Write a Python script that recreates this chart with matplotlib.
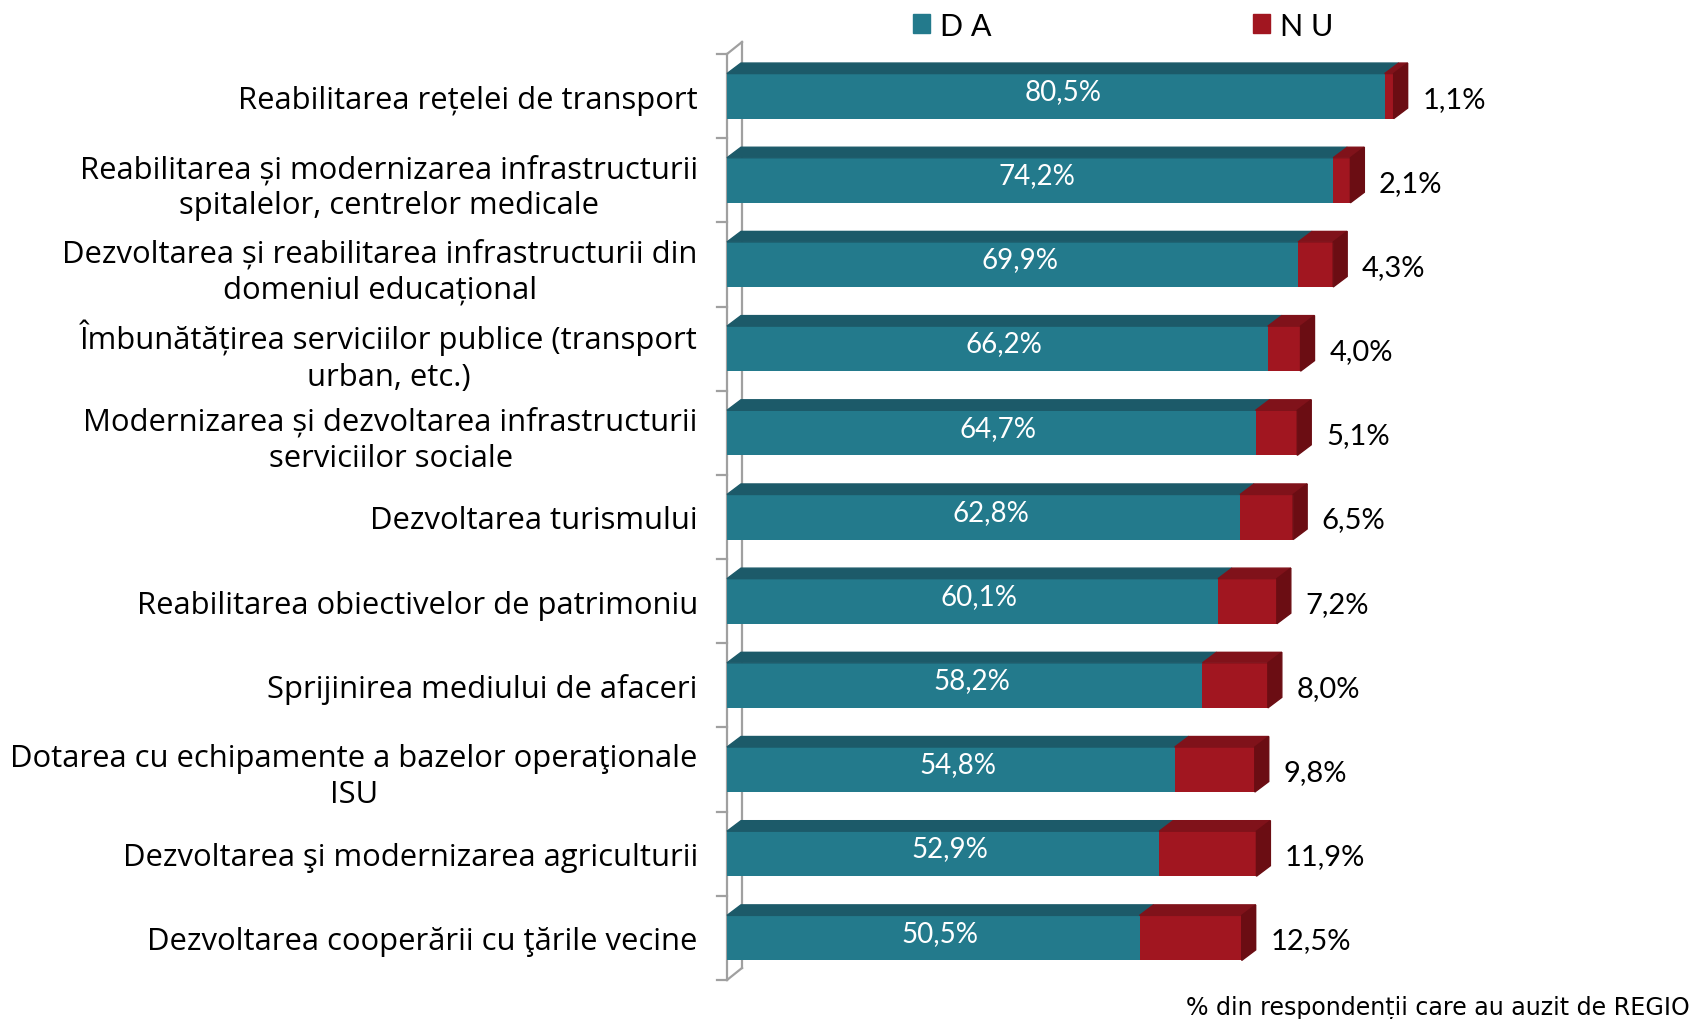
import matplotlib
matplotlib.use('Agg')
import matplotlib.pyplot as plt
from matplotlib.patches import Polygon, Patch

plt.rcParams['font.family'] = ['Lato', 'DejaVu Sans']

categories = [
    'Reabilitarea rețelei de transport',
    'Reabilitarea și modernizarea infrastructurii\nspitalelor, centrelor medicale',
    'Dezvoltarea și reabilitarea infrastructurii din\ndomeniul educațional',
    'Îmbunătățirea serviciilor publice (transport\nurban, etc.)',
    'Modernizarea și dezvoltarea infrastructurii\nserviciilor sociale',
    'Dezvoltarea turismului',
    'Reabilitarea obiectivelor de patrimoniu',
    'Sprijinirea mediului de afaceri',
    'Dotarea cu echipamente a bazelor operaţionale\nISU',
    'Dezvoltarea şi modernizarea agriculturii',
    'Dezvoltarea cooperării cu ţările vecine',
]
da_values = [80.5, 74.2, 69.9, 66.2, 64.7, 62.8, 60.1, 58.2, 54.8, 52.9, 50.5]
nu_values = [1.1, 2.1, 4.3, 4.0, 5.1, 6.5, 7.2, 8.0, 9.8, 11.9, 12.5]
series_names = ['D A', 'N U']
note = '% din respondenții care au auzit de REGIO'

teal = '#237A8C'
teal_top = '#1C5A69'
red = '#A11620'
red_top = '#80121A'
red_side = '#6B0D13'
wall = '#A0A0A0'

W, H = 1694, 1020
fig = plt.figure(figsize=(W / 100, H / 100), dpi=100)
# axes placed so x=0 sits on the wall and each category is one unit tall
ax = fig.add_axes([727 / W, 39 / H, 817 / W, 926 / H])
ax.set_xlim(0, 100)
ax.set_ylim(len(categories) - 0.5, -0.5)
for s in ax.spines.values():
    s.set_visible(False)
ax.set_xticks([])

h = 0.535     # front face height
dx = 1.71     # depth offset in x (data units)
dy = 0.125    # depth offset in y (data units)

ys = list(range(len(categories)))

# back wall
wdx, wdy = 1.84, 0.143
top_y, bot_y = -0.5, len(categories) - 0.5
ax.plot([0, 0], [top_y, bot_y], color=wall, lw=1.6, clip_on=False)
ax.plot([wdx, wdx], [top_y - wdy, bot_y - wdy], color=wall, lw=1.6, clip_on=False)
ax.plot([0, wdx], [top_y, top_y - wdy], color=wall, lw=1.6, clip_on=False)
ax.plot([0, wdx], [bot_y, bot_y - wdy], color=wall, lw=1.6, clip_on=False)
for k in range(len(categories) + 1):
    ax.plot([-1.22, 0], [top_y + k, top_y + k], color=wall, lw=1.6, clip_on=False)

ax.barh(ys, da_values, height=h, color=teal, zorder=2)
ax.barh(ys, nu_values, left=da_values, height=h, color=red, zorder=2)

for y, da, nu in zip(ys, da_values, nu_values):
    top = y - h / 2
    end = da + nu
    ax.add_patch(Polygon([(0, top), (da, top), (da + dx, top - dy), (dx, top - dy)],
                         closed=True, color=teal_top, zorder=2, clip_on=False))
    ax.add_patch(Polygon([(da, top), (end, top), (end + dx, top - dy), (da + dx, top - dy)],
                         closed=True, color=red_top, zorder=2, clip_on=False))
    ax.add_patch(Polygon([(end, top), (end + dx, top - dy), (end + dx, y + h / 2 - dy), (end, y + h / 2)],
                         closed=True, color=red_side, zorder=2, clip_on=False))
    ax.text((da + dx) / 2, y - dy / 2, f'{da:.1f}%'.replace('.', ','), color='white',
            fontsize=20, ha='center', va='center', zorder=3)
    ax.text(end + dx + 1.8, y + 0.03, f'{nu:.1f}%'.replace('.', ','), color='black',
            fontsize=21, ha='left', va='center', zorder=3)

ax.set_yticks(ys, labels=categories)
ax.tick_params(axis='y', length=0, pad=21)
for lab in ax.get_yticklabels():
    lab.set_multialignment('center')
    lab.set_family(['Open Sans', 'DejaVu Sans'])
    lab.set_fontsize(22.3)
    lab.set_linespacing(1.28)

handles = [Patch(color=teal), Patch(color=red)]
fig.legend(handles, series_names, loc='center left', ncol=2, frameon=False,
           bbox_to_anchor=(913 / W, 1 - 26.5 / H), bbox_transform=fig.transFigure,
           fontsize=22, handlelength=0.56, handleheight=0.56, handletextpad=0.33,
           columnspacing=8.55, borderpad=0, borderaxespad=0)

fig.text(1690 / W, 5 / H, note, ha='right', va='baseline', fontsize=17.1,
         family='DejaVu Sans')

fig.savefig('out.png', dpi=100)
